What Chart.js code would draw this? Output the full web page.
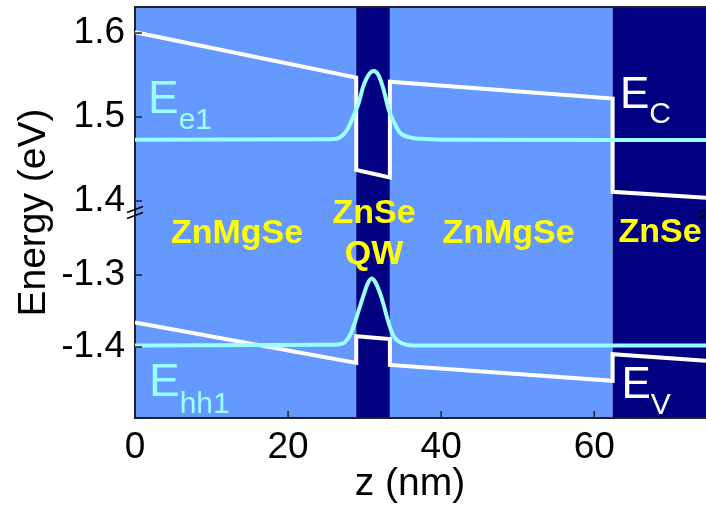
<!DOCTYPE html>
<html>
<head>
<meta charset="utf-8">
<script src="https://cdn.jsdelivr.net/npm/chart.js@4.4.1/dist/chart.umd.min.js"></script>
<style>
  html, body { margin: 0; padding: 0; background: #fff; }
</style>
</head>
<body>
<canvas id="grafico" width="706" height="506"></canvas>
<script>
// camadas da heteroestrutura (z em nm)
const camadaIni = [0, 28.9, 33.3, 62.4];
const camadaFim = [28.9, 33.3, 62.4, 74.6];
const camadaMaterial = ['ZnMgSe', 'ZnSe', 'ZnMgSe', 'ZnSe'];

// banda de conducao E_C (eV)
const zEC = [0, 28.9, 28.9, 33.3, 33.3, 62.4, 62.4, 74.6];
const eC = [1.601, 1.547, 1.437, 1.428, 1.542, 1.522, 1.411, 1.404];

// banda de valencia E_V (eV)
const zEV = [0, 28.9, 28.9, 33.3, 33.3, 62.4, 62.4, 74.6];
const eV = [-1.366, -1.422, -1.385, -1.389, -1.425, -1.447, -1.410, -1.419];

// funcao de onda do eletron E_e1
const zE1 = [0, 25.5, 26.8, 27.7, 28.5, 29.2, 29.8, 30.5, 31.2, 31.8, 32.5, 33.1, 33.8, 34.6, 35.9, 37.3, 40, 74.6];
const eE1 = [1.4728, 1.4735, 1.4758, 1.4845, 1.5004, 1.516, 1.536, 1.550, 1.5548, 1.550, 1.532, 1.510, 1.4944, 1.4814, 1.4758, 1.474, 1.4730, 1.4726];

// funcao de onda do buraco pesado E_hh1
const zHH1 = [0, 25.5, 27.2, 27.7, 28.2, 28.7, 29.2, 29.8, 30.4, 30.9, 31.4, 32.0, 32.5, 32.9, 33.4, 33.8, 34.3, 34.9, 36.3, 74.6];
const eHH1 = [-1.398, -1.397, -1.395, -1.390, -1.381, -1.367, -1.350, -1.330, -1.312, -1.305, -1.310, -1.325, -1.342, -1.358, -1.375, -1.385, -1.391, -1.395, -1.398, -1.398];

// ticks
const ticksZ = [0, 20, 40, 60];
const ticksTopo = [1.4, 1.5, 1.6];
const ticksBase = [-1.4, -1.3];

const corCamada = { 'ZnMgSe': '#6699ff', 'ZnSe': '#000080' };
const branco = '#ffffff';
const ciano = '#99ffff';
const fonte = "'Liberation Sans', Arial, Helvetica, sans-serif";

function pontos(xs, ys) {
    return xs.map((x, i) => ({ x: x, y: ys[i] }));
}

function linha(ctx, x0, y0, x1, y1) {
    ctx.beginPath();
    ctx.moveTo(x0, y0);
    ctx.lineTo(x1, y1);
    ctx.stroke();
}

// sem folga extra para os rotulos das pontas
function semFolga(s) {
    s.paddingTop = 0;
    s.paddingBottom = 0;
    s.paddingLeft = 0;
    s.paddingRight = 0;
}

const fundo = {
    id: 'fundo',
    beforeDraw(chart) {
        const { ctx, chartArea, scales } = chart;
        ctx.save();
        for (let i = 0; i < camadaIni.length; i++) {
            const x0 = scales.x.getPixelForValue(camadaIni[i]);
            const x1 = scales.x.getPixelForValue(camadaFim[i]);
            ctx.fillStyle = corCamada[camadaMaterial[i]];
            ctx.fillRect(x0, chartArea.top, x1 - x0, chartArea.bottom - chartArea.top);
        }
        ctx.restore();
    }
};

const textos = {
    id: 'textos',
    afterDraw(chart) {
        const { ctx, chartArea, scales } = chart;
        const meio = scales.yTop.bottom;
        ctx.save();

        // ticks para dentro
        ctx.strokeStyle = '#222';
        ctx.lineWidth = 1.5;
        scales.x.ticks.forEach(t => {
            const px = scales.x.getPixelForValue(t.value);
            linha(ctx, px, chartArea.bottom, px, chartArea.bottom - 7);
        });
        [scales.yTop, scales.yBot].forEach(s => {
            s.ticks.forEach(t => {
                const py = s.getPixelForValue(t.value);
                linha(ctx, chartArea.left, py, chartArea.left + 7, py);
            });
        });

        // borda de cima
        ctx.lineWidth = 2;
        linha(ctx, chartArea.left, chartArea.top, chartArea.right, chartArea.top);

        // marcas de quebra do eixo
        ctx.lineWidth = 1.5;
        ctx.strokeStyle = '#000';
        [-3, 3].forEach(d => {
            linha(ctx, chartArea.left - 8, meio + d + 3, chartArea.left + 8, meio + d - 3);
            linha(ctx, chartArea.right - 8, meio + d + 3, chartArea.right + 8, meio + d - 3);
        });

        // nomes das camadas
        ctx.fillStyle = '#ffff00';
        ctx.font = 'bold 34px ' + fonte;
        ctx.textAlign = 'center';
        ctx.textBaseline = 'alphabetic';
        ctx.fillText('ZnMgSe', 237, 242.5);
        ctx.fillText('ZnMgSe', 508.5, 242.5);
        ctx.fillText('ZnSe', 660, 242);
        ctx.fillText('ZnSe', 374, 223);
        ctx.fillText('QW', 374, 264);

        // rotulos de energia
        ctx.textAlign = 'left';
        const rotulo = (cor, tam, x, y, sub, yS) => {
            ctx.fillStyle = cor;
            ctx.font = tam + 'px ' + fonte;
            ctx.fillText('E', x, y);
            const w = ctx.measureText('E').width;
            ctx.font = '30px ' + fonte;
            ctx.fillText(sub, x + w, yS);
        };
        rotulo(ciano, 46, 148, 113, 'e1', 129);
        rotulo(ciano, 46, 149, 396, 'hh1', 412.5);
        rotulo(branco, 44, 620, 107.5, 'C', 123);
        rotulo(branco, 44, 621.5, 397.5, 'V', 414);

        // titulos dos eixos
        ctx.fillStyle = '#000';
        ctx.font = '39px ' + fonte;
        ctx.textAlign = 'center';
        ctx.fillText('z (nm)', 410, 495);
        ctx.translate(45, (chartArea.top + chartArea.bottom) / 2);
        ctx.rotate(-Math.PI / 2);
        ctx.fillText('Energy (eV)', 0, 0);

        ctx.restore();
    }
};

const eixoY = (min, max, peso, lista) => ({
    type: 'linear',
    position: 'left',
    stack: 'energia',
    stackWeight: 1,
    weight: peso,
    min: min,
    max: max,
    border: { display: true, color: '#222', width: 2 },
    grid: { drawOnChartArea: false, drawTicks: false },
    afterBuildTicks: s => { s.ticks = lista.map(v => ({ value: v })); },
    ticks: {
        padding: 10,
        color: '#000',
        font: { size: 37, family: fonte },
        callback: v => v.toFixed(1)
    },
    afterFit: s => { s.width = 135; semFolga(s); }
});

const grafico = new Chart(document.getElementById('grafico'), {
    type: 'line',
    data: {
        datasets: [
            { label: 'E_e1', data: pontos(zE1, eE1), yAxisID: 'yTop', borderColor: ciano, borderWidth: 4, cubicInterpolationMode: 'monotone', pointRadius: 0, order: 0 },
            { label: 'E_hh1', data: pontos(zHH1, eHH1), yAxisID: 'yBot', borderColor: ciano, borderWidth: 4, cubicInterpolationMode: 'monotone', pointRadius: 0, order: 0 },
            { label: 'E_C', data: pontos(zEC, eC), yAxisID: 'yTop', borderColor: branco, borderWidth: 4, tension: 0, pointRadius: 0, order: 1 },
            { label: 'E_V', data: pontos(zEV, eV), yAxisID: 'yBot', borderColor: branco, borderWidth: 4, tension: 0, pointRadius: 0, order: 1 }
        ]
    },
    options: {
        responsive: false,
        animation: false,
        devicePixelRatio: 1,
        layout: { padding: { top: 7, right: 0, left: 0, bottom: 0 } },
        plugins: { legend: { display: false }, tooltip: { enabled: false } },
        scales: {
            x: {
                type: 'linear',
                position: 'bottom',
                min: 0,
                max: 74.6,
                border: { display: true, color: '#222', width: 2 },
                grid: { drawOnChartArea: false, drawTicks: false },
                afterBuildTicks: s => { s.ticks = ticksZ.map(v => ({ value: v })); },
                ticks: { padding: 8, color: '#000', maxRotation: 0, font: { size: 37, family: fonte } },
                afterFit: s => { s.height = 88; semFolga(s); }
            },
            yTop: eixoY(1.3863, 1.631, 2, ticksTopo),
            yBot: eixoY(-1.4986, -1.2132, 1, ticksBase)
        }
    },
    plugins: [fundo, textos]
});
</script>
</body>
</html>
